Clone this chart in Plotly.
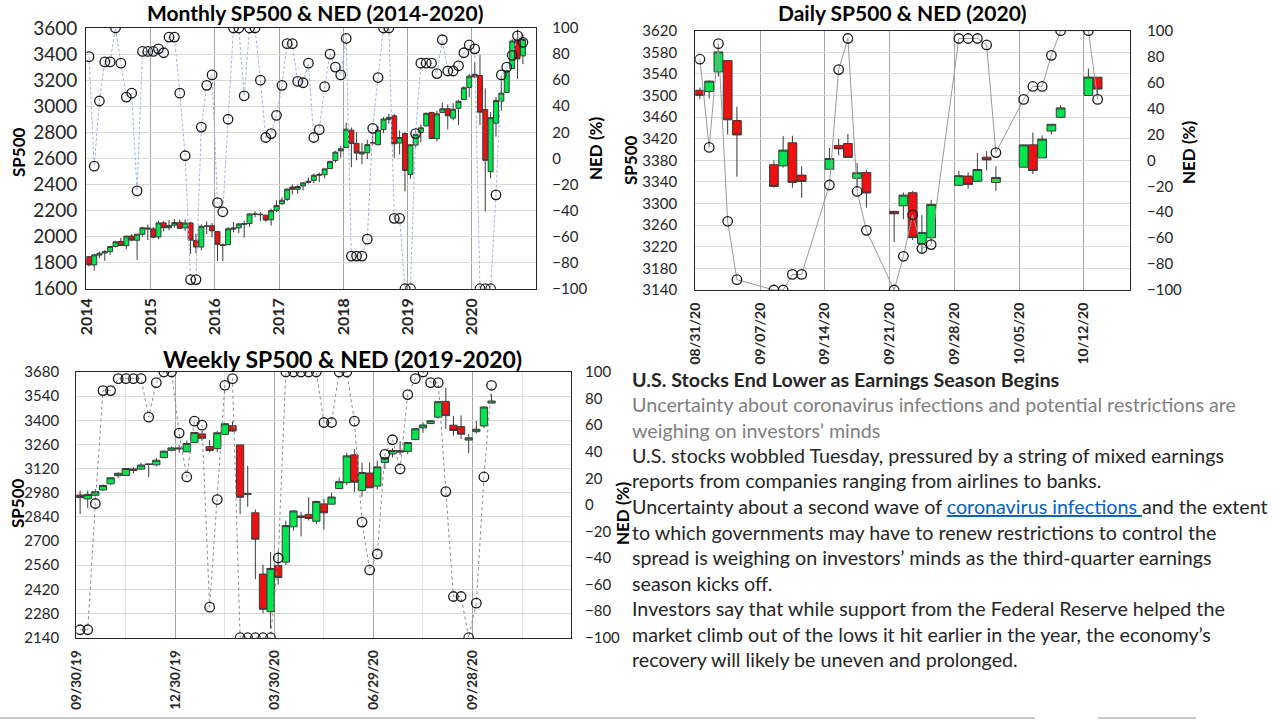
import pandas as pd
import plotly.graph_objects as go

FONT = "Lato"
W, H = 1280, 720
GREEN = "#00e64d"
RED = "#ee1111"
EDGE = "#3a3a3a"
TXT = "#262626"

# ---------------- Monthly data (Jan 2014 - Oct 2020) ----------------
m_dates = pd.date_range("2014-01-01", "2020-10-01", freq="MS").strftime("%Y-%m-%d").tolist()
m_open = [1845.9, 1782.7, 1857.7, 1874.0, 1884.4, 1923.9, 1962.3, 1929.8, 2004.1, 1971.4, 2018.2, 2065.8,
          2058.9, 1996.7, 2105.2, 2067.6, 2087.4, 2108.6, 2067.0, 2104.5, 1970.1, 1919.7, 2080.8, 2082.9,
          2038.2, 1936.9, 1937.1, 2056.6, 2067.2, 2093.9, 2099.3, 2173.2, 2171.3, 2164.3, 2128.7, 2200.2,
          2251.6, 2285.6, 2380.1, 2362.3, 2388.5, 2415.6, 2431.4, 2477.1, 2474.4, 2521.2, 2583.2, 2657.2,
          2683.7, 2816.5, 2715.2, 2633.5, 2643.0, 2718.7, 2705.0, 2821.2, 2897.0, 2926.3, 2717.6, 2790.5,
          2477.0, 2702.3, 2798.2, 2848.6, 2952.3, 2751.5, 2952.3, 2980.3, 2909.0, 2983.7, 3050.7, 3143.9,
          3244.7, 3235.7, 2974.3, 2498.1, 2869.1, 3038.8, 3105.9, 3288.3, 3507.4, 3385.9]
m_high = [1850.8, 1867.9, 1884.0, 1897.3, 1924.0, 1968.2, 1991.4, 2005.0, 2019.3, 2018.2, 2075.8, 2093.6,
          2072.4, 2119.6, 2117.5, 2125.9, 2134.7, 2129.9, 2132.8, 2112.7, 2021.0, 2094.3, 2116.5, 2104.3,
          2038.2, 1947.2, 2072.2, 2111.1, 2103.5, 2120.6, 2177.1, 2193.8, 2187.9, 2169.6, 2214.1, 2277.5,
          2301.0, 2371.5, 2401.0, 2398.2, 2418.7, 2453.8, 2484.0, 2490.9, 2519.4, 2583.0, 2657.7, 2695.0,
          2872.9, 2836.0, 2801.9, 2717.5, 2742.2, 2791.5, 2848.0, 2916.5, 2940.9, 2939.9, 2815.2, 2800.2,
          2709.0, 2813.5, 2860.3, 2949.5, 2954.1, 2964.2, 3028.0, 3013.6, 3022.0, 3050.1, 3154.3, 3247.9,
          3337.8, 3393.5, 3136.7, 2954.9, 3068.7, 3233.1, 3280.0, 3514.8, 3588.1, 3549.9]
m_low = [1770.5, 1737.9, 1834.4, 1814.4, 1859.8, 1916.0, 1930.7, 1904.8, 1964.0, 1820.7, 2001.0, 1972.6,
         1988.1, 1980.9, 2039.7, 2048.4, 2067.9, 2056.3, 2044.0, 1867.0, 1871.9, 1893.7, 2019.4, 1993.3,
         1812.3, 1810.1, 1937.1, 2033.8, 2025.9, 1991.7, 2074.0, 2147.6, 2119.1, 2114.7, 2083.8, 2187.4,
         2245.1, 2271.7, 2322.3, 2329.0, 2352.7, 2405.7, 2407.7, 2417.4, 2446.6, 2520.4, 2566.2, 2605.5,
         2682.4, 2532.7, 2585.9, 2553.8, 2594.6, 2698.7, 2699.0, 2795.1, 2864.1, 2603.5, 2631.1, 2346.6,
         2444.0, 2681.8, 2722.3, 2848.6, 2750.5, 2728.8, 2952.2, 2822.1, 2891.9, 2855.9, 3050.7, 3070.3,
         3214.6, 2855.8, 2191.9, 2447.5, 2766.6, 2965.7, 3101.2, 3284.5, 3209.5, 3323.7]
m_close = [1782.6, 1859.5, 1872.3, 1884.0, 1923.6, 1960.2, 1930.7, 2003.4, 1972.3, 2018.1, 2067.6, 2058.9,
           1995.0, 2104.5, 2067.9, 2085.5, 2107.4, 2063.1, 2103.8, 1972.2, 1920.0, 2079.4, 2080.4, 2043.9,
           1940.2, 1932.2, 2059.7, 2065.3, 2097.0, 2098.9, 2173.6, 2171.0, 2168.3, 2126.2, 2199.0, 2238.8,
           2278.9, 2363.6, 2362.7, 2384.2, 2411.8, 2423.4, 2470.3, 2471.7, 2519.4, 2575.3, 2647.6, 2673.6,
           2823.8, 2713.8, 2640.9, 2648.1, 2705.3, 2718.4, 2816.3, 2901.5, 2914.0, 2711.7, 2760.2, 2506.9,
           2704.1, 2784.5, 2834.4, 2945.8, 2752.1, 2941.8, 2980.4, 2926.5, 2976.7, 3037.6, 3141.0, 3230.8,
           3225.5, 2954.2, 2584.6, 2912.4, 3044.3, 3100.3, 3271.1, 3500.3, 3363.0, 3512.0]
m_ned = [78, -6, 44, 74, 74, 100, 73, 47, 50, -25, 82, 82,
         82, 84, 81, 93, 93, 50, 2, -93, -93, 24, 56, 64,
         -34, -41, 30, 100, 100, 48, 100, 100, 60, 16, 19, 33,
         56, 88, 88, 59, 58, 73, 16, 22, 55, 80, 70, 64,
         92, -75, -75, -75, -62, 23, 62, 100, 100, -46, -46, -100,
         -100, 19, 73, 73, 73, 65, 91, 67, 67, 71, 81, 87,
         84, -100, -100, -100, -28, 64, 70, 79, 94, 89]

# ---------------- Daily data (Aug 31 - Oct 13, 2020) ----------------
d_dates = ["2020-08-31", "2020-09-01", "2020-09-02", "2020-09-03", "2020-09-04",
           "2020-09-08", "2020-09-09", "2020-09-10", "2020-09-11",
           "2020-09-14", "2020-09-15", "2020-09-16", "2020-09-17", "2020-09-18",
           "2020-09-21", "2020-09-22", "2020-09-23", "2020-09-24", "2020-09-25",
           "2020-09-28", "2020-09-29", "2020-09-30", "2020-10-01", "2020-10-02",
           "2020-10-05", "2020-10-06", "2020-10-07", "2020-10-08", "2020-10-09",
           "2020-10-12", "2020-10-13"]
d_open = [3509.7, 3507.4, 3543.8, 3564.7, 3453.6,
          3371.9, 3369.8, 3412.6, 3352.7,
          3363.6, 3407.7, 3411.2, 3346.9, 3357.4,
          3285.6, 3295.8, 3320.1, 3226.1, 3236.7,
          3333.9, 3350.9, 3341.2, 3385.9, 3338.9,
          3367.3, 3408.7, 3384.6, 3434.3, 3459.7,
          3500.0, 3534.0]
d_high = [3514.8, 3528.0, 3588.1, 3564.9, 3479.2,
          3380.0, 3424.8, 3425.6, 3369.0,
          3402.9, 3419.5, 3428.9, 3375.2, 3362.3,
          3285.6, 3320.3, 3323.4, 3278.7, 3306.9,
          3360.7, 3357.9, 3393.6, 3397.2, 3369.1,
          3409.6, 3431.6, 3426.3, 3447.3, 3482.3,
          3549.9, 3534.0]
d_low = [3493.3, 3494.6, 3535.2, 3427.4, 3349.6,
         3329.3, 3366.8, 3329.3, 3310.5,
         3363.6, 3389.3, 3384.5, 3328.8, 3292.4,
         3229.1, 3271.0, 3232.6, 3209.5, 3228.4,
         3332.9, 3327.5, 3340.5, 3361.4, 3323.7,
         3367.3, 3354.5, 3384.6, 3428.2, 3458.1,
         3499.6, 3500.9]
d_close = [3500.3, 3526.7, 3580.8, 3455.1, 3427.0,
           3331.8, 3399.0, 3339.2, 3341.0,
           3383.5, 3401.2, 3385.5, 3357.0, 3319.5,
           3281.1, 3315.6, 3236.9, 3246.6, 3298.5,
           3351.6, 3335.5, 3363.0, 3380.8, 3348.4,
           3408.6, 3361.0, 3419.4, 3446.8, 3477.1,
           3534.2, 3511.9]
d_ned = [78, 10, 90, -47, -92,
         -100, -100, -88, -88,
         -19, 70, 94, -24, -54,
         -100, -74, -42, -68, -65,
         94, 94, 94, 89, 6,
         47, 57, 57, 81, 100,
         100, 47]

# ---------------- Weekly data (week of Sep 30, 2019 - Oct 12, 2020) ----------------
w_dates = pd.date_range("2019-09-30", "2020-10-12", freq="7D").strftime("%Y-%m-%d").tolist()
w_open = [2967.1, 2944.2, 2965.8, 2996.5, 3032.1, 3079.0, 3080.3, 3117.9, 3117.4, 3143.9, 3141.9, 3183.6, 3226.1, 3240.1,
          3217.6, 3271.1, 3321.0, 3247.2, 3235.7, 3318.3, 3369.0, 3257.6, 2974.3, 2863.9, 2508.6, 2290.7, 2559.0,
          2578.3, 2782.5, 2845.6, 2854.7, 2815.0, 2915.5, 2913.9, 3004.1, 3038.8, 3199.9, 2993.8, 3094.4, 3018.6,
          3155.3, 3205.1, 3224.3, 3219.8, 3288.3, 3356.0, 3380.9, 3418.1, 3509.7, 3371.9, 3363.6, 3285.6, 3333.9, 3367.3, 3500.0]
w_high = [2992.5, 2993.3, 3000.4, 3027.4, 3067.0, 3097.8, 3120.5, 3127.6, 3154.3, 3150.6, 3182.7, 3225.7, 3247.9, 3258.1,
          3283.0, 3329.9, 3337.8, 3285.9, 3337.6, 3385.1, 3393.5, 3259.8, 3136.7, 2882.6, 2563.0, 2637.0, 2641.4,
          2818.6, 2879.2, 2869.0, 2954.9, 2934.0, 2944.3, 2980.3, 3068.7, 3211.7, 3233.1, 3155.5, 3155.3, 3165.8,
          3187.0, 3238.3, 3279.3, 3272.0, 3352.5, 3387.9, 3400.0, 3509.4, 3588.1, 3425.6, 3428.9, 3320.3, 3397.2, 3482.3, 3549.9]
w_low = [2855.9, 2892.7, 2959.8, 2991.2, 3023.2, 3066.9, 3078.3, 3091.4, 3113.8, 3070.3, 3132.0, 3180.4, 3220.5, 3212.0,
         3214.6, 3270.7, 3281.5, 3214.6, 3214.7, 3315.2, 3333.1, 2855.8, 2900.0, 2478.9, 2280.5, 2191.9, 2447.5,
         2562.0, 2761.0, 2727.1, 2819.0, 2797.9, 2766.6, 2913.9, 3004.1, 3025.0, 2984.5, 2958.0, 3007.0, 2999.0,
         3118.0, 3185.0, 3200.0, 3204.0, 3284.5, 3327.0, 3379.0, 3410.0, 3349.6, 3310.5, 3292.4, 3209.5, 3323.7, 3354.5, 3500.9]
w_close = [2952.0, 2970.3, 2986.2, 3022.6, 3066.9, 3093.1, 3120.5, 3110.3, 3141.0, 3145.9, 3168.8, 3221.2, 3240.0, 3234.9,
           3265.4, 3329.6, 3295.5, 3225.5, 3327.7, 3380.2, 3337.8, 2954.2, 2972.4, 2711.0, 2304.9, 2541.5, 2488.7,
           2789.8, 2874.6, 2836.7, 2830.7, 2929.8, 2863.7, 2955.5, 3044.3, 3193.9, 3041.3, 3097.7, 3009.1, 3130.0,
           3185.0, 3224.7, 3215.6, 3271.1, 3351.3, 3372.9, 3397.2, 3508.0, 3427.0, 3341.0, 3319.5, 3298.5, 3348.4, 3477.1, 3511.9]
w_ned = [-94, -94, 1, 86, 86, 95, 95, 95, 95, 66, 92, 100, 100, 54,
         21, 63, 60, -77, 4, 90, 95, -100, -100, -100, -100, -100, -40,
         100, 100, 100, 100, 100, 62, 62, 100, 100, 63, -13, -49, -37,
         38, 49, 27, 83, 95, 100, 92, 92, 10, -69, -69, -100, -74, 21, 90]

# ---------------- Text ----------------
titles = ["Monthly SP500 & NED (2014-2020)", "Daily SP500 & NED (2020)", "Weekly SP500 & NED (2019-2020)"]
text_lines = [
    ("<b>U.S. Stocks End Lower as Earnings Season Begins</b>", "#262626"),
    ("Uncertainty about coronavirus infections and potential restrictions are", "#7f7f7f"),
    ("weighing on investors’ minds", "#7f7f7f"),
    ("U.S. stocks wobbled Tuesday, pressured by a string of mixed earnings", "#262626"),
    ("reports from companies ranging from airlines to banks.", "#262626"),
    ("Uncertainty about a second wave of <span style='color:#0563C1'><u>coronavirus infections </u></span>and the extent", "#262626"),
    ("to which governments may have to renew restrictions to control the", "#262626"),
    ("spread is weighing on investors’ minds as the third-quarter earnings", "#262626"),
    ("season kicks off.", "#262626"),
    ("Investors say that while support from the Federal Reserve helped the", "#262626"),
    ("market climb out of the lows it hit earlier in the year, the economy’s", "#262626"),
    ("recovery will likely be uneven and prolonged.", "#262626"),
]


def px(x):
    return x / W


def py(y):
    return 1 - y / H


def candle(x, o, h, l, c, xa, ya, period, period0=None):
    kw = dict(xperiod=period, xperiodalignment="middle")
    if period0 is not None:
        kw["xperiod0"] = period0
    return go.Candlestick(
        x=x, open=o, high=h, low=l, close=c, xaxis=xa, yaxis=ya,
        increasing=dict(fillcolor=GREEN, line=dict(color=EDGE, width=1)),
        decreasing=dict(fillcolor=RED, line=dict(color=EDGE, width=1)),
        whiskerwidth=0, showlegend=False, **kw)


def ned(x, y, xa, ya, period, lcolor, dash, period0=None):
    kw = dict(xperiod=period, xperiodalignment="middle")
    if period0 is not None:
        kw["xperiod0"] = period0
    return go.Scatter(
        x=x, y=y, xaxis=xa, yaxis=ya, mode="lines+markers",
        line=dict(color=lcolor, width=1, dash=dash),
        marker=dict(symbol="circle-open", size=9.5, color="#1a1a1a", line=dict(width=1.3)),
        showlegend=False, **kw)


DAY = 86400000
fig = go.Figure()
fig.add_trace(candle(m_dates, m_open, m_high, m_low, m_close, "x", "y", "M1"))
fig.add_trace(ned(m_dates, m_ned, "x", "y2", "M1", "#9fb6e3", "3px,2px"))
fig.add_trace(candle(d_dates, d_open, d_high, d_low, d_close, "x2", "y3", DAY))
fig.add_trace(ned(d_dates, d_ned, "x2", "y4", DAY, "#9a9a9a", "solid"))
fig.add_trace(candle(w_dates, w_open, w_high, w_low, w_close, "x3", "y5", 7 * DAY, "2019-09-30"))
fig.add_trace(ned(w_dates, w_ned, "x3", "y6", 7 * DAY, "#8a8a8a", "dot", "2019-09-30"))


def xax(dom, anchor, rng, size, **extra):
    d = dict(domain=dom, anchor=anchor, type="date", range=rng, tickangle=-90,
             showgrid=True, gridcolor="#a6a6a6", gridwidth=1, automargin=False,
             showline=True, mirror=True, linecolor="#262626", linewidth=1.3,
             ticks="", rangeslider=dict(visible=False), zeroline=False,
             tickfont=dict(family=FONT, size=size, color=TXT, weight="bold"))
    d.update(extra)
    return d


def yax(dom, anchor, rng, dtick, size, standoff):
    return dict(domain=dom, anchor=anchor, range=rng, dtick=dtick, tick0=rng[0],
                showgrid=True, gridcolor="#d9d9d9", gridwidth=1, automargin=False,
                showline=True, mirror=True, linecolor="#262626", linewidth=1.3,
                ticks="", zeroline=False, ticklabelstandoff=standoff,
                tickfont=dict(family=FONT, size=size, color=TXT))


def y2ax(over, anchor, size, standoff):
    return dict(overlaying=over, anchor=anchor, side="right", range=[-100, 100], dtick=20, tick0=-100,
                showgrid=False, zeroline=False, showline=False, ticks="", automargin=False,
                ticklabelstandoff=standoff,
                tickfont=dict(family=FONT, size=size, color=TXT))


fig.update_layout(
    template="none",
    width=W, height=H, margin=dict(l=0, r=0, t=0, b=0, pad=0), autosize=False,
    paper_bgcolor="white", plot_bgcolor="white", boxgap=0.05, boxgroupgap=0,
    xaxis=xax([px(86.3), px(536.3)], "y", ["2014-01-01", "2020-12-31 12:00"], 16,
              dtick="M12", tickformat="%Y", ticklabelstandoff=2),
    yaxis=yax([py(288.7), py(28)], "x", [1600, 3600], 200, 19, 4),
    yaxis2=y2ax("y", "x", 15, 15),
    xaxis2=xax([px(695.3), px(1130)], "y3", ["2020-08-31", "2020-10-17"], 14,
               dtick=7 * DAY, tick0="2020-08-31", tickformat="%m/%d/%y", ticklabelstandoff=6),
    yaxis3=yax([py(290), py(30.7)], "x2", [3140, 3620], 40, 15, 14),
    yaxis4=y2ax("y3", "x2", 15, 16),
    xaxis3=xax([px(76.3), px(571)], "y5", ["2019-09-30", "2020-12-27 12:00"], 13.5,
               dtick=91 * DAY, tick0="2019-09-30", tickformat="%m/%d/%y", ticklabelstandoff=6,
               minor=dict(dtick=int(45.5 * DAY), tick0="2019-09-30", showgrid=True,
                          gridcolor="#e3e3e3", gridwidth=1)),
    yaxis5=yax([py(637.7), py(372)], "x3", [2140, 3680], 140, 15, 13),
    yaxis6=y2ax("y5", "x3", 15, 13),
)

ann = []
# chart titles
for t, (cx, cy, sz) in zip(titles, [(315, 12, 21), (902, 12, 21), (342, 359, 23)]):
    ann.append(dict(text=f"<b>{t}</b>", x=px(cx), y=py(cy), xref="paper", yref="paper",
                    showarrow=False, xanchor="center", yanchor="middle",
                    font=dict(family=FONT, size=sz, color="black")))
# axis titles
for t, cx, cy in [("SP500", 18, 152), ("NED (%)", 596, 148), ("SP500", 630, 160),
                  ("NED (%)", 1188, 152), ("SP500", 17, 503), ("NED (%)", 622, 513)]:
    ann.append(dict(text=f"<b>{t}</b>", x=px(cx), y=py(cy), xref="paper", yref="paper",
                    showarrow=False, xanchor="center", yanchor="middle", textangle=-90,
                    font=dict(family=FONT, size=17, color="black")))
# article text
for i, (t, col) in enumerate(text_lines):
    ann.append(dict(text=t, x=px(630), y=py(379 + i * 25.5), xref="paper", yref="paper",
                    showarrow=False, xanchor="left", yanchor="middle", align="left",
                    font=dict(family=FONT, size=19.7, color=col)))
fig.update_layout(annotations=ann)

fig.add_shape(type="line", xref="paper", yref="paper", x0=0, x1=px(1035), y0=py(718), y1=py(718),
              line=dict(color="#c8c8c8", width=2))
fig.add_shape(type="line", xref="paper", yref="paper", x0=px(1098), x1=px(1196), y0=py(718), y1=py(718),
              line=dict(color="#c8c8c8", width=2))

# remove the browser's default 8px page margin so the figure sits at the window origin
fig.write_html("out.html", config={"displayModeBar": False},
               post_script="document.body.style.margin='0';document.body.style.overflow='hidden';")
